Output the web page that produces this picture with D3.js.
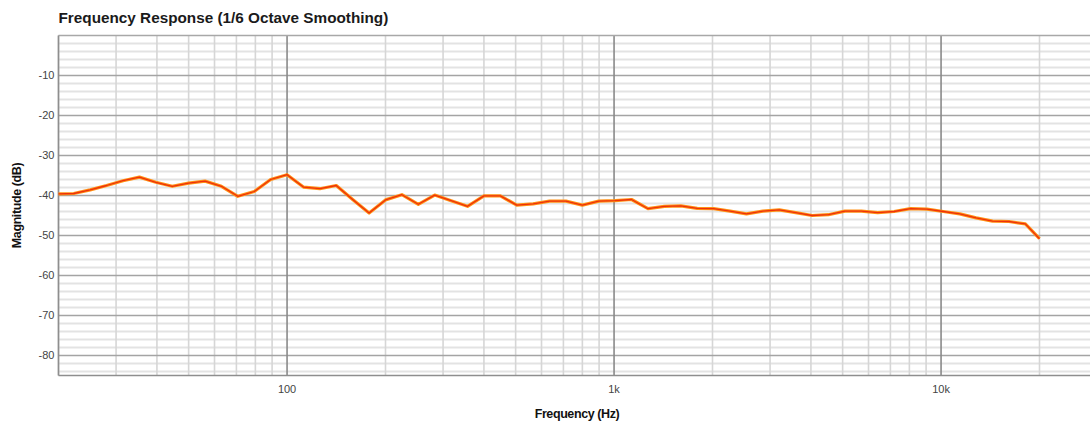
<!DOCTYPE html>
<html><head><meta charset="utf-8">
<script src="https://cdn.jsdelivr.net/npm/d3@7"></script>
<style>body{margin:0;background:#fff;overflow:hidden}svg{display:block}</style>
</head><body><svg id="c" width="1090" height="425"></svg>
<script>
// ---- data ----
const frequencies = [
  20, 22.27, 25, 28.06, 31.5, 35.36, 39.69, 44.55, 50, 56.12, 63, 70.71, 79.37, 89.09,
  100, 112.2, 126, 141.4, 158.7, 178.2, 200, 224.5, 252, 282.8, 317.5, 356.4, 400, 449,
  504, 565.7, 635, 712.7, 800, 898, 1008, 1131, 1270, 1425, 1600, 1796, 2016, 2263,
  2540, 2851, 3200, 3592, 4032, 4525, 5080, 5702, 6400, 7184, 8063, 9051, 10159, 11404,
  12800, 14368, 16127, 18102, 20000
];
const magnitudes = [
  -39.6, -39.5, -38.6, -37.5, -36.3, -35.4, -36.7, -37.7, -36.9, -36.4, -37.7, -40.2, -39.0, -36.0,
  -34.8, -37.9, -38.3, -37.5, -41.0, -44.4, -41.1, -39.8, -42.2, -39.9, -41.3, -42.7, -40.1, -40.1,
  -42.4, -42.1, -41.4, -41.4, -42.4, -41.4, -41.3, -41.0, -43.3, -42.7, -42.6, -43.2, -43.3, -43.9,
  -44.6, -43.9, -43.6, -44.3, -45.0, -44.8, -43.9, -43.9, -44.3, -44.0, -43.3, -43.4, -44.0, -44.6,
  -45.6, -46.4, -46.5, -47.1, -50.8
];
const xMajorTicks = [100, 1000, 10000];
const xTickLabels = ["100", "1k", "10k"];
const yTickValues = [-10, -20, -30, -40, -50, -60, -70, -80];
const yTickLabels = ["-10", "-20", "-30", "-40", "-50", "-60", "-70", "-80"];
const title = "Frequency Response (1/6 Octave Smoothing)";
const xTitle = "Frequency (Hz)";
const yTitle = "Magnitude (dB)";

// ---- layout ----
const L = 58.5, T = 35.5, B = 375.5, R = 1095;
const svg = d3.select("#c");
const x = d3.scaleLog().domain([20, 20000]).range([L, 1039.5]);
const y = d3.scaleLinear().domain([0, -85]).range([T, B]);
const font = "'Liberation Sans', Arial, Helvetica, sans-serif";

const g = svg.append("g");

// minor horizontal grid (every 2 dB)
const yMinor = d3.range(-2, -85, -2).filter(v => v % 10 !== 0);
g.selectAll(".hmin").data(yMinor).join("line")
  .attr("x1", L).attr("x2", R).attr("y1", d => y(d)).attr("y2", d => y(d))
  .attr("stroke", "#e3e3e3").attr("stroke-width", 2);

// minor vertical grid
const xMinor = x.ticks().filter(v => {
  const l = Math.log10(v); return Math.abs(l - Math.round(l)) > 1e-6;
}).concat([30000]);
g.selectAll(".vmin").data(xMinor).join("line")
  .attr("x1", d => x(d)).attr("x2", d => x(d)).attr("y1", T).attr("y2", B)
  .attr("stroke", "#d6d6d6").attr("stroke-width", 1.6);

// major horizontal grid
g.selectAll(".hmaj").data(yTickValues).join("line")
  .attr("x1", L).attr("x2", R).attr("y1", d => y(d)).attr("y2", d => y(d))
  .attr("stroke", "#a4a4a4").attr("stroke-width", 1.4);

// major vertical grid
g.selectAll(".vmaj").data(xMajorTicks).join("line")
  .attr("x1", d => x(d)).attr("x2", d => x(d)).attr("y1", T).attr("y2", B)
  .attr("stroke", "#8a8a8a").attr("stroke-width", 1.6);

// border
g.append("line").attr("x1", L).attr("x2", R).attr("y1", T).attr("y2", T).attr("stroke", "#a8a8a8").attr("stroke-width", 1.4);
g.append("line").attr("x1", L).attr("x2", R).attr("y1", B).attr("y2", B).attr("stroke", "#8e8e8e").attr("stroke-width", 1.6);
g.append("line").attr("x1", L).attr("x2", L).attr("y1", T).attr("y2", B).attr("stroke", "#8e8e8e").attr("stroke-width", 1.6);

// y tick labels
g.selectAll(".ylab").data(yTickValues).join("text")
  .attr("x", L - 4).attr("y", d => y(d)).attr("dy", "0.36em")
  .attr("text-anchor", "end").attr("font-family", font).attr("font-size", 11)
  .attr("fill", "#444").text((d, i) => yTickLabels[i]);

// x tick labels
g.selectAll(".xlab").data(xMajorTicks).join("text")
  .attr("x", d => x(d)).attr("y", 393)
  .attr("text-anchor", "middle").attr("font-family", font).attr("font-size", 11)
  .attr("fill", "#444").text((d, i) => xTickLabels[i]);

// line
const data = frequencies.map((f, i) => ({f, m: magnitudes[i]}));
const line = d3.line().x(d => x(d.f)).y(d => y(d.m));
g.append("path").datum(data).attr("d", line).attr("fill", "none")
  .attr("stroke", "#ff9214").attr("stroke-width", 3.2).attr("stroke-linejoin", "round");
g.append("path").datum(data).attr("d", line).attr("fill", "none")
  .attr("stroke", "#ee300c").attr("stroke-width", 1.3).attr("stroke-linejoin", "round");

// titles
svg.append("text").attr("x", L).attr("y", 23).attr("font-family", font)
  .attr("font-size", 15.3).attr("font-weight", "bold").attr("fill", "#1a1a1a")
  .text(title);
svg.append("text").attr("x", 577).attr("y", 418).attr("text-anchor", "middle")
  .attr("font-family", font).attr("font-size", 12.5).attr("font-weight", "bold")
  .attr("letter-spacing", "-0.4").attr("fill", "#111").text(xTitle);
svg.append("text").attr("transform", `translate(21,${(T + B) / 2}) rotate(-90)`)
  .attr("text-anchor", "middle").attr("font-family", font).attr("font-size", 12.5)
  .attr("font-weight", "bold").attr("letter-spacing", "-0.4").attr("fill", "#111").text(yTitle);
</script>
</body></html>
